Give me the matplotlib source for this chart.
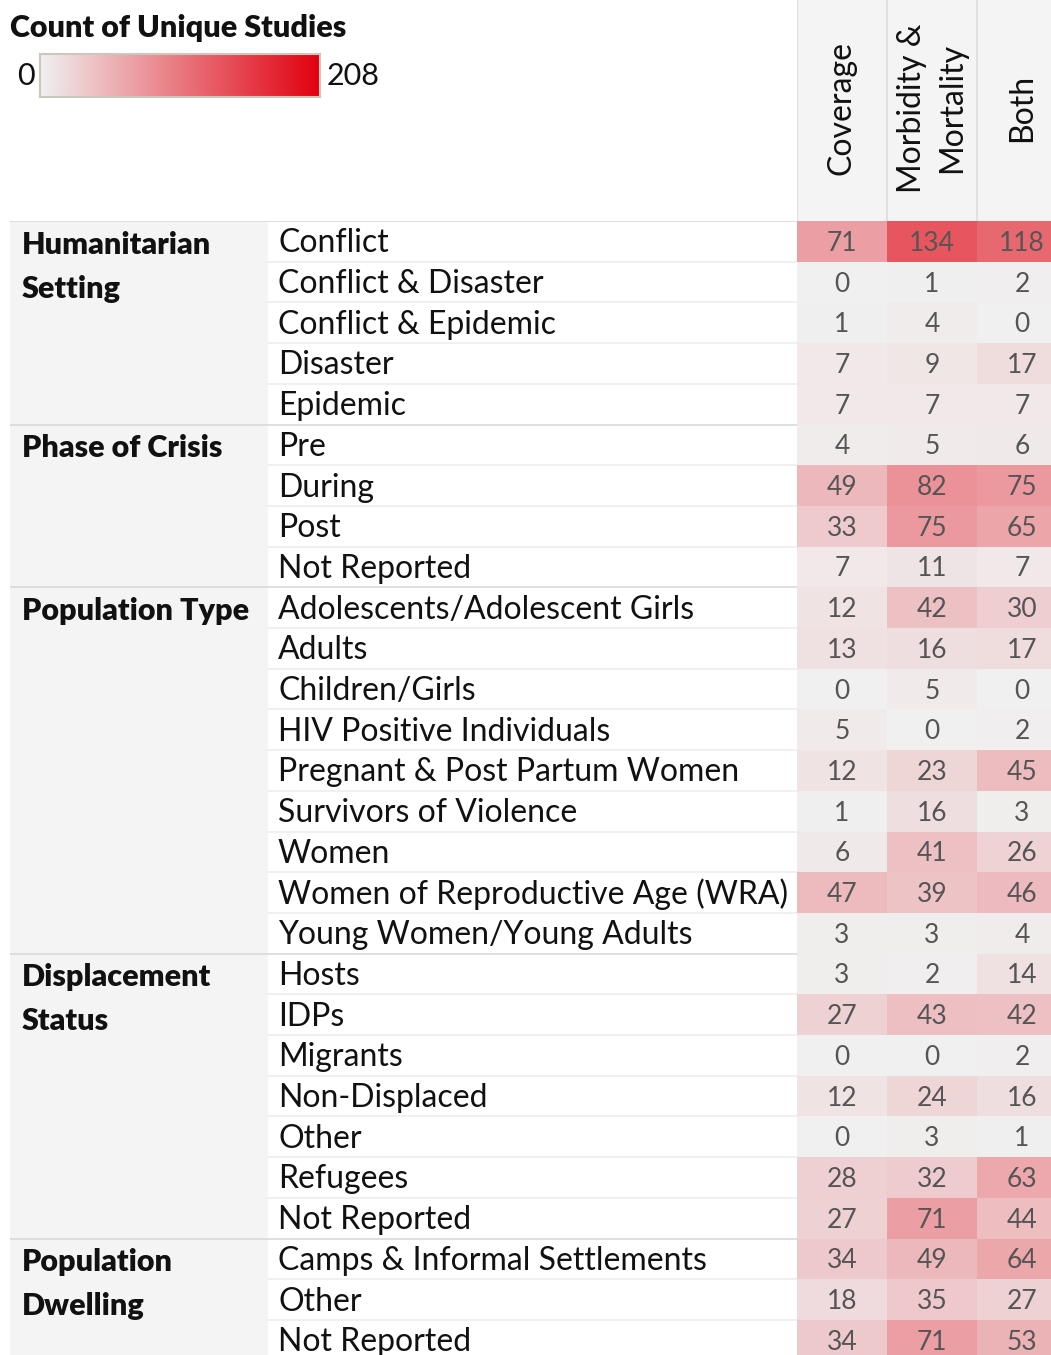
import numpy as np
import matplotlib
matplotlib.use("Agg")
import matplotlib.pyplot as plt
from matplotlib.colors import LinearSegmentedColormap
from matplotlib.patches import Rectangle

plt.rcParams['font.family'] = ['Lato', 'DejaVu Sans']

# data
groups = ["Humanitarian\nSetting", "Phase of Crisis", "Population Type",
          "Displacement\nStatus", "Population\nDwelling"]
group_sizes = [5, 4, 9, 7, 3]
sub_labels = ["Conflict", "Conflict & Disaster", "Conflict & Epidemic", "Disaster", "Epidemic",
              "Pre", "During", "Post", "Not Reported",
              "Adolescents/Adolescent Girls", "Adults", "Children/Girls", "HIV Positive Individuals",
              "Pregnant & Post Partum Women", "Survivors of Violence", "Women",
              "Women of Reproductive Age (WRA)", "Young Women/Young Adults",
              "Hosts", "IDPs", "Migrants", "Non-Displaced", "Other", "Refugees", "Not Reported",
              "Camps & Informal Settlements", "Other", "Not Reported"]
columns = ["Coverage", "Morbidity &\nMortality", "Both"]
coverage = [71, 0, 1, 7, 7, 4, 49, 33, 7, 12, 13, 0, 5, 12, 1, 6, 47, 3,
            3, 27, 0, 12, 0, 28, 27, 34, 18, 34]
morbidity = [134, 1, 4, 9, 7, 5, 82, 75, 11, 42, 16, 5, 0, 23, 16, 41, 39, 3,
             2, 43, 0, 24, 3, 32, 71, 49, 35, 71]
both = [118, 2, 0, 17, 7, 6, 75, 65, 7, 30, 17, 0, 2, 45, 3, 26, 46, 4,
        14, 42, 2, 16, 1, 63, 44, 64, 27, 53]
vmin, vmax = 0, 208

values = np.array([coverage, morbidity, both]).T
nrows = len(sub_labels)

W, H = 1051, 1355
fig = plt.figure(figsize=(W / 100, H / 100), dpi=100)
cmap = LinearSegmentedColormap.from_list("reds", ["#f0f0f0", "#e2000f"])

row_h = 40.7
table_top = 221
visible_rows = (H - table_top) / row_h
ax_h = (H - table_top) / H

# heatmap
ax = fig.add_axes([797 / W, 0, 270 / W, ax_h])
ax.pcolormesh(np.arange(4), np.arange(nrows + 1), values, cmap=cmap, vmin=vmin, vmax=vmax)
for i in range(nrows):
    for j in range(3):
        ax.text(j + 0.5, i + 0.55, str(values[i, j]), ha='center', va='center',
                fontsize=19, color='#555555')
ax.set_xlim(0, 3)
ax.set_ylim(visible_rows, 0)
ax.axis('off')

# row labels
axl = fig.add_axes([10 / W, 0, 787 / W, ax_h])
axl.set_xlim(0, 787)
axl.set_ylim(visible_rows, 0)
axl.axis('off')
axl.add_patch(Rectangle((0, 0), 258, nrows, color='#f4f4f4', lw=0))
start = 0
for g, n in zip(groups, group_sizes):
    for k, line in enumerate(g.split("\n")):
        axl.text(12, start + 0.58 + k * 1.08, line, ha='left', va='center',
                 fontsize=22, fontweight='heavy', color='#111111')
    for r in range(start + 1, start + n):
        axl.plot([258, 787], [r, r], color='#ededed', lw=1.2)
    axl.plot([0, 787], [start, start], color='#d9d9d9', lw=1.2)
    start += n
for i, lab in enumerate(sub_labels):
    axl.text(268, i + 0.55, lab, ha='left', va='center', fontsize=23, color='#111111')

# column headers
axh = fig.add_axes([797 / W, ax_h, 270 / W, table_top / H])
axh.set_xlim(0, 3)
axh.set_ylim(0, 1)
axh.axis('off')
axh.add_patch(Rectangle((0, 0), 3, 1, color='#f4f4f4', lw=0))
for j in range(3):
    axh.plot([j, j], [0, 1], color='#dddddd', lw=1.2)
    axh.text(j + 0.5, 0.51, columns[j], rotation=90, ha='center', va='center',
             multialignment='center', fontsize=23, color='#111111', linespacing=1.45)

# colour legend
fig.text(10 / W, 1 - 28 / H, "Count of Unique Studies", ha='left', va='center',
         fontsize=22, fontweight='heavy', color='#111111')
cax = fig.add_axes([40 / W, 1 - 97 / H, 280 / W, 43 / H])
grad = np.linspace(vmin, vmax, 256).reshape(1, -1)
cax.imshow(grad, aspect='auto', cmap=cmap, vmin=vmin, vmax=vmax)
cax.set_xticks([])
cax.set_yticks([])
for s in cax.spines.values():
    s.set_color('#c8c8bc')
    s.set_linewidth(1.5)
fig.text(35 / W, 1 - 76 / H, str(vmin), ha='right', va='center', fontsize=22, color='#111111')
fig.text(327 / W, 1 - 76 / H, str(vmax), ha='left', va='center', fontsize=22, color='#111111')

fig.savefig("out.png", dpi=100)
